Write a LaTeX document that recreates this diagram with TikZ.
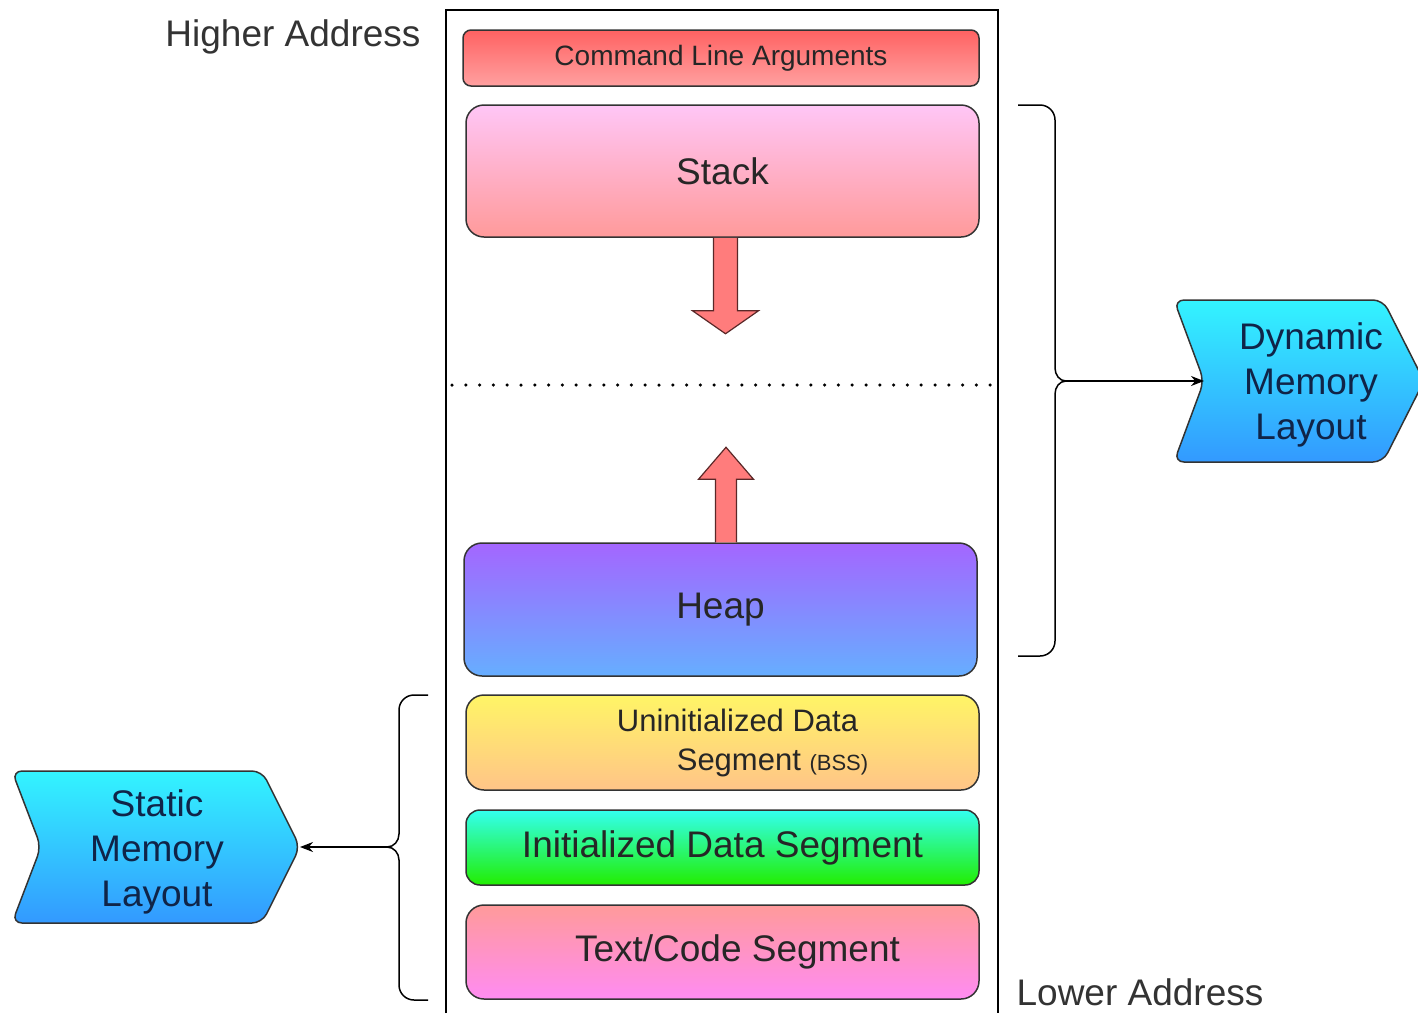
\documentclass[tikz,border=0pt]{standalone}
\usepackage{fontspec}
\setmainfont{Liberation Sans}
\usetikzlibrary{arrows.meta}

\definecolor{clatop}{HTML}{FF6262}
\definecolor{clabot}{HTML}{FFA0A0}
\definecolor{stacktop}{HTML}{FFC6F6}
\definecolor{stackbot}{HTML}{FF9A9A}
\definecolor{heaptop}{HTML}{A466FF}
\definecolor{heapbot}{HTML}{66AEFF}
\definecolor{bsstop}{HTML}{FFF566}
\definecolor{bssbot}{HTML}{FFC488}
\definecolor{datatop}{HTML}{33FFF0}
\definecolor{databot}{HTML}{22EE00}
\definecolor{codetop}{HTML}{FF9A9A}
\definecolor{codebot}{HTML}{FF8CF2}
\definecolor{chevtop}{HTML}{33F4FF}
\definecolor{chevbot}{HTML}{3399FF}
\definecolor{grow}{HTML}{FF7C7C}

\tikzset{
  seg/.style={draw=black!80, line width=1.5pt, rounded corners=18pt,
    minimum width=513pt, text=black!85, font=\fontsize{37}{44}\selectfont},
  chev/.style={draw=black!80, line width=1.5pt, rounded corners=10pt,
    top color=chevtop, bottom color=chevbot},
  chevtext/.style={align=center, text={rgb,255:red,16;green,36;blue,72},
    font=\fontsize{37}{45}\selectfont},
  growarrow/.style={draw={rgb,255:red,90;green,40;blue,40}, line width=1.2pt,
    fill=grow, line join=miter},
  brace/.style={line width=1.5pt},
  addr/.style={text=black!80, font=\fontsize{37}{44}\selectfont}
}

\begin{document}
\begin{tikzpicture}[x=1pt,y=-1pt, >={Stealth[length=13pt,width=10pt]}]
  \useasboundingbox (0,0) rectangle (1418,1013);
  \draw [line width=1.5pt] (446,1013) |- (998,10) -- (998,1013);
  \node [addr] at (293,37) (high) {Higher Address};
  \node [addr] at (1140,992) (low) {Lower Address};

  \node [seg, rounded corners=8pt, minimum width=516pt, minimum height=56pt,
    top color=clatop, bottom color=clabot, font=\fontsize{28}{34}\selectfont]
    at (721,58) (cla) {Command Line Arguments};
  \node [seg, minimum height=132pt, top color=stacktop, bottom color=stackbot]
    at (722.5,171) (stack) {Stack};
  \node [seg, minimum height=133pt, top color=heaptop, bottom color=heapbot]
    at (720.5,609.5) (heap) {\raisebox{-3pt}{Heap}};
  \node [seg, minimum height=95pt, top color=bsstop, bottom color=bssbot,
    align=center, font=\fontsize{31}{39}\selectfont]
    at (722.5,742.5) (bss) {\hspace*{30pt}Uninitialized Data\\
    \hspace*{100pt}Segment {\fontsize{22}{26}\selectfont(BSS)}};
  \node [seg, rounded corners=14pt, minimum height=75pt, top color=datatop, bottom color=databot]
    at (722.5,847.5) (data) {\raisebox{-3pt}{Initialized Data Segment}};
  \node [seg, minimum height=94pt, top color=codetop, bottom color=codebot]
    at (722.5,952) (code) {\hspace*{30pt}Text/Code Segment};

  \draw [growarrow, shift={(stack.south)}] (-9,0) -- (-9,73) -- (-30,73)
    -- (3,96) -- (36,73) -- (15,73) -- (15,0);
  \draw [growarrow, shift={(heap.north)}] (-5,0) -- (-5,-63) -- (-22,-63)
    -- (5.5,-95) -- (33,-63) -- (16,-63) -- (16,0);
  \draw [line width=3.5pt, line cap=round, dash pattern=on 0pt off 13.8pt]
    (452,385) -- (998,385);

  \draw [brace] (1018,105) -- (1040,105) to[out=0,in=90] (1055,120)
    -- (1055,368) to[out=-90,in=180] (1066,381) to[out=180,in=90] (1055,394)
    -- (1055,641) to[out=-90,in=0] (1040,656) -- (1018,656);
  \coordinate (dyntip) at (1066,381);
  \draw [brace] (428,695) -- (414,695) to[out=180,in=90] (399,710)
    -- (399,834) to[out=-90,in=0] (387,847) to[out=0,in=90] (399,860)
    -- (399,985) to[out=-90,in=180] (414,1000) -- (428,1000);
  \coordinate (stattip) at (387,847);

  \path [chev] (1174,300) -- (1383,300) -- (1424,381) -- (1383,462)
    -- (1174,462) -- (1204,381) -- cycle;
  \coordinate (dynin) at (1204,381);
  \node [chevtext] at (1311,385) (dyn) {Dynamic\\Memory\\Layout};
  \path [chev] (12,771) -- (262,771) -- (300,847) -- (262,923)
    -- (12,923) -- (41,847) -- cycle;
  \coordinate (statin) at (300,847);
  \node [chevtext] at (157,852) (stat) {Static\\Memory\\Layout};

  \draw [->, line width=1.5pt] (dyntip) -- (dynin);
  \draw [->, line width=1.5pt] (stattip) -- (statin);
\end{tikzpicture}
\end{document}
